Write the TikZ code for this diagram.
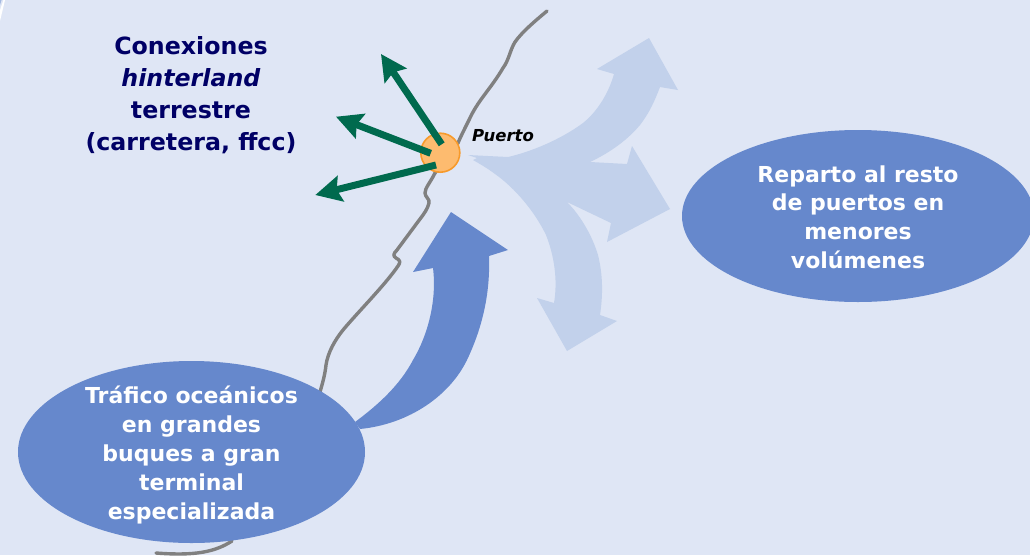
\documentclass[tikz,border=0pt]{standalone}
\usepackage{fontspec}
\setmainfont{DejaVu Sans}
\usetikzlibrary{arrows.meta,shapes.geometric}
\definecolor{bgc}{HTML}{DFE6F5}
\definecolor{darkb}{HTML}{6688CC}
\definecolor{lightb}{HTML}{C2D1EB}
\definecolor{greenc}{HTML}{006A4E}
\definecolor{navyc}{HTML}{000066}
\definecolor{grayl}{HTML}{808080}
\definecolor{portfill}{HTML}{FDBB6F}
\definecolor{portline}{HTML}{F79A2B}
\tikzset{
  x=1pt,y=-1pt,
  coast/.style={draw=grayl,line width=3.4pt,line cap=round,line join=round},
  blob/.style={ellipse,fill=darkb,inner sep=0pt,text=white},
  route/.style={draw=greenc,line width=7pt,-{Stealth[length=26pt,width=26pt,inset=4pt]}},
  whitetxt/.style={text=white,font=\fontsize{22}{28.8}\selectfont\bfseries,align=center,inner sep=0pt},
  navytxt/.style={text=navyc,font=\fontsize{23.7}{32}\selectfont\bfseries,align=center,inner sep=0pt},
}
\begin{document}
\begin{tikzpicture}
\useasboundingbox (0,0) rectangle (1030,555);
\fill[bgc] (0,0) rectangle (1030,555);
\fill[white] (3.5,0) -- (5,0) -- (0,21) -- (0,10) -- cycle;
\fill[darkb!60] (0,0) -- (1.5,0) -- (0,5) -- cycle;
% coast
\draw[coast] (547,11) .. controls (535,21) and (522,32) .. (515,42)
  .. controls (510,50) and (509,60) .. (503,68)
  .. controls (490,90) and (478,100) .. (469,120)
  .. controls (464,130) and (460,138) .. (458,143)
  -- (435,173) .. controls (430,183) and (425,188) .. (425,193)
  .. controls (425,197) and (430,199) .. (429,203)
  .. controls (428,208) and (424,214) .. (420,219)
  -- (397,250) .. controls (393,254) and (393,256) .. (396,258)
  .. controls (400,260) and (401,262) .. (398,266)
  .. controls (385,285) and (358,312) .. (343,330)
  .. controls (335,340) and (328,352) .. (326,365)
  .. controls (325,375) and (322,385) .. (320,392);
\draw[coast] (232,541) .. controls (215,552) and (195,556) .. (156,553);
% light arrows
\fill[lightb] (468,155) -- (508,157)
  .. controls (530,152) and (560,140) .. (583,123)
  .. controls (598,111) and (609,92) .. (614,74)
  -- (597,69) -- (649,38) -- (678,90) -- (660,87)
  .. controls (655,100) and (650,112) .. (640,125)
  .. controls (625,143) and (605,155) .. (590,162)
  -- (627,164) -- (632,146) -- (670,209) -- (607,242) -- (611,223) -- (567,202)
  .. controls (580,215) and (592,235) .. (598,255)
  .. controls (603,275) and (603,295) .. (600,315)
  -- (617,321) -- (567,351) -- (537,298) -- (554,303)
  .. controls (558,280) and (554,255) .. (546,235)
  .. controls (535,212) and (515,188) .. (495,174)
  .. controls (487,168) and (480,164) .. (473,160)
  -- (477,158) -- cycle;
% dark arrow
\fill[darkb] (355,422) .. controls (378,405) and (400,385) .. (413,360)
  .. controls (428,335) and (437,300) .. (433,268)
  -- (413,272) -- (451,212) -- (508,250) -- (489,256)
  .. controls (490,285) and (486,320) .. (467,360)
  .. controls (450,395) and (410,424) .. (360,429) -- cycle;
% blobs
\node[blob,minimum width=347pt,minimum height=182pt] (ocean) at (191.5,452) {};
\node[blob,minimum width=352pt,minimum height=172pt] (rest) at (858,216) {};
\node[whitetxt] (oceantxt) at (191.5,455) {Tráfico oceánicos\\en grandes\\buques a gran\\terminal\\especializada};
\node[whitetxt] (resttxt) at (858,217) {Reparto al resto\\de puertos en\\menores\\volúmenes};
\node[navytxt] (conx) at (191,95) {Conexiones\\\textit{hinterland}\\terrestre\\(carretera, ffcc)};
% port
\node[circle,fill=portfill,draw=portline,line width=1.6pt,minimum size=39pt,inner sep=0pt] (port) at (440.3,152.7) {};
\node[font=\fontsize{16.5}{18}\selectfont\bfseries\itshape,text=black,inner sep=0pt] (puerto) at (503,136) {Puerto};
% green routes
\coordinate (t1) at (381,54);
\coordinate (t2) at (336,116.7);
\coordinate (t3) at (315.3,195);
\coordinate (s1) at (441.7,144.3);
\coordinate (s2) at (430.7,153.3);
\coordinate (s3) at (436,165);
\draw[route] (s1) -- (t1);
\draw[route] (s2) -- (t2);
\draw[route] (s3) -- (t3);
\end{tikzpicture}
\end{document}
